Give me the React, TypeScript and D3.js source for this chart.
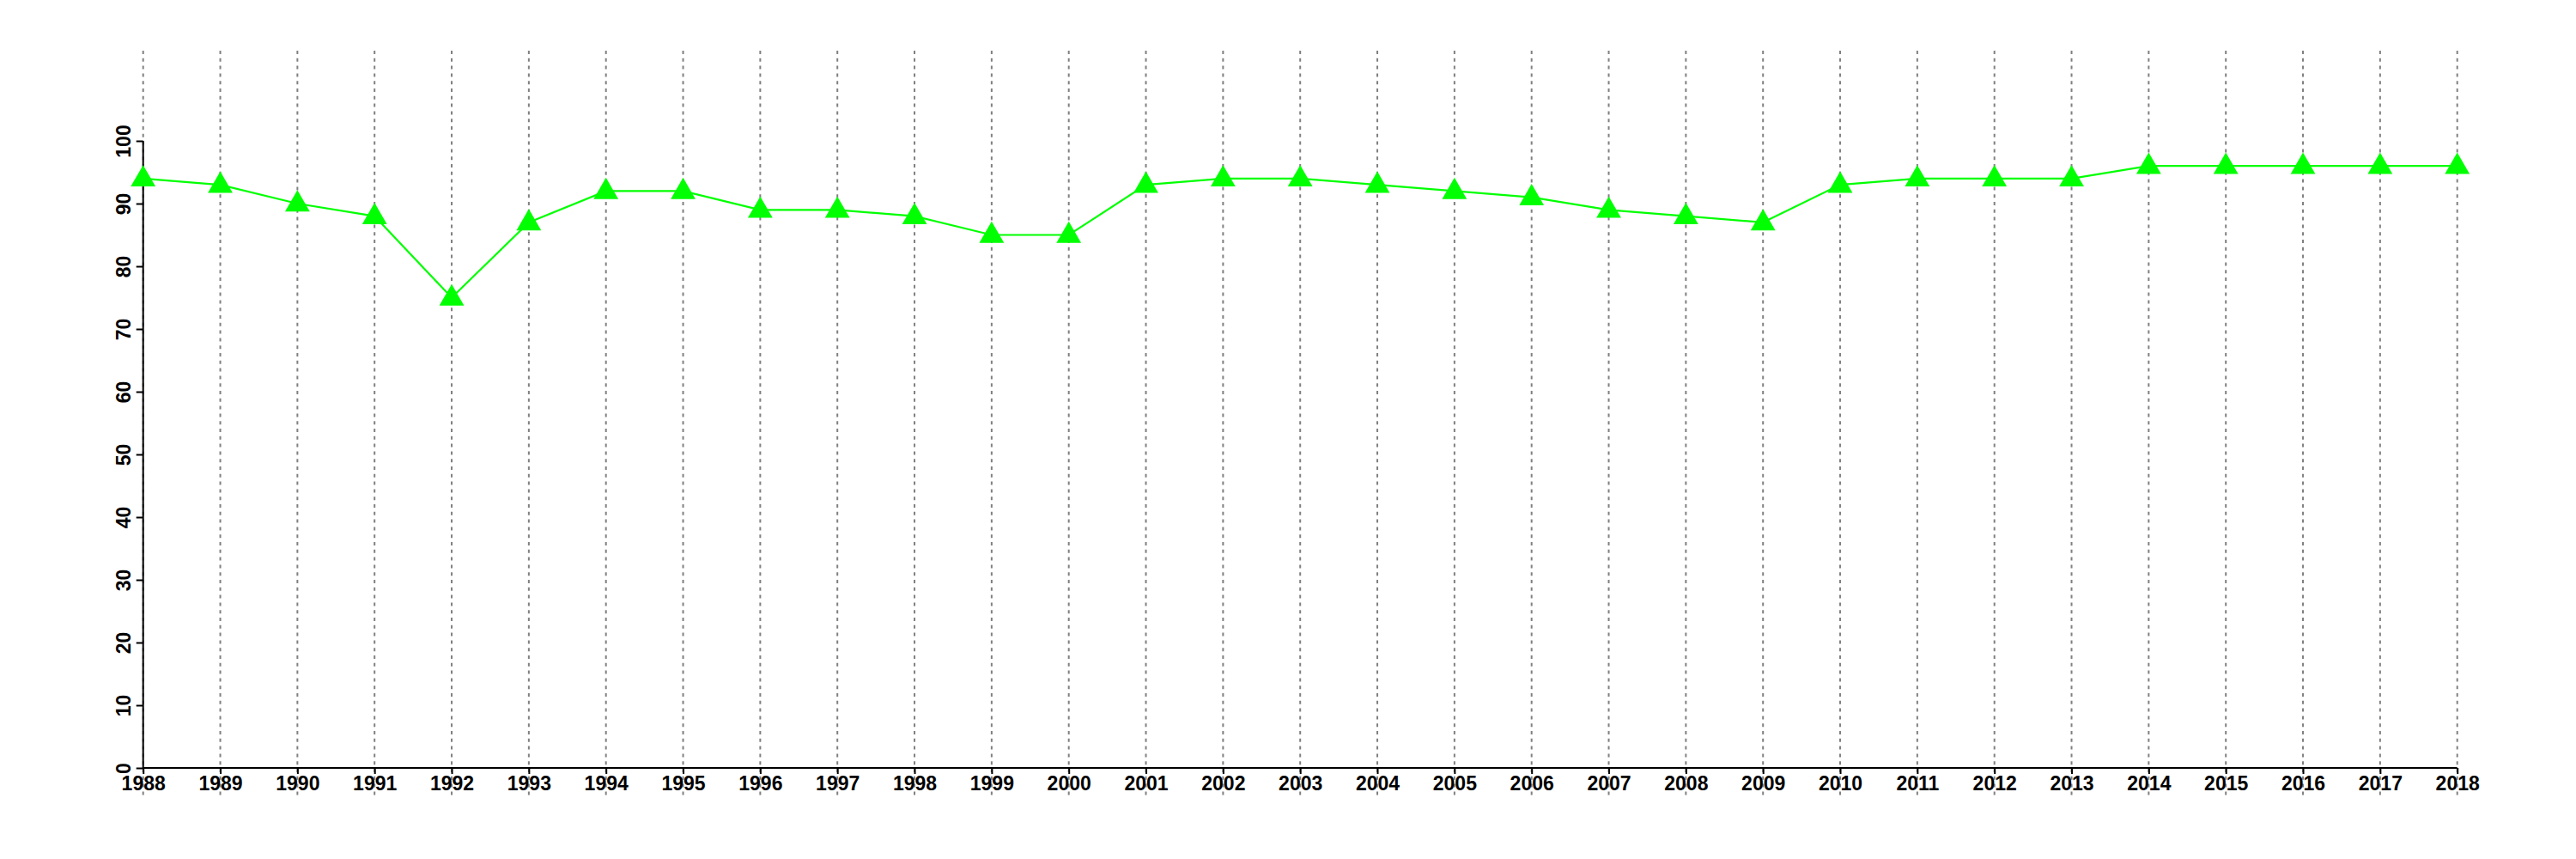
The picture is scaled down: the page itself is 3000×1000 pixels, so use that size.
import { useEffect, useRef } from "react";
import * as d3 from "d3";

const years = [
  1988, 1989, 1990, 1991, 1992, 1993, 1994, 1995, 1996, 1997, 1998, 1999, 2000,
  2001, 2002, 2003, 2004, 2005, 2006, 2007, 2008, 2009, 2010, 2011, 2012, 2013,
  2014, 2015, 2016, 2017, 2018
];
const values = [
  94, 93, 90, 88, 75, 87, 92, 92, 89, 89, 88, 85, 85,
  93, 94, 94, 93, 92, 91, 89, 88, 87, 93, 94, 94, 94,
  96, 96, 96, 96, 96
];
const yTicks = [0, 10, 20, 30, 40, 50, 60, 70, 80, 90, 100];

const W = 3000, H = 1000;
const m = { l: 166.7, r: 138.3, t: 164, b: 106 };
const FONT = "'Liberation Sans', Arial, Helvetica, sans-serif";

export default function App() {
  const ref = useRef<SVGSVGElement | null>(null);

  useEffect(() => {
    const svg = d3.select(ref.current);
    svg.selectAll("*").remove();

    const x = d3.scaleLinear()
      .domain([years[0], years[years.length - 1]])
      .range([m.l, W - m.r]);
    const y = d3.scaleLinear()
      .domain([0, 100])
      .range([H - m.b, m.t]);

    svg.append("rect").attr("width", W).attr("height", H).attr("fill", "white");

    // dotted vertical grid, one per year
    svg.append("g")
      .selectAll("line")
      .data(years)
      .enter()
      .append("line")
      .attr("x1", d => x(d)).attr("x2", d => x(d))
      .attr("y1", 59).attr("y2", 927)
      .attr("stroke", "#808080")
      .attr("stroke-width", 2)
      .attr("stroke-dasharray", "4 4.8");

    // x axis
    const ax = d3.axisBottom(x)
      .tickValues(years)
      .tickSize(7)
      .tickPadding(2)
      .tickFormat(d => String(d));
    svg.append("g")
      .attr("transform", `translate(0,${y(0)})`)
      .call(ax as any)
      .call((g: any) => g.select(".domain").attr("stroke", "black").attr("stroke-width", 2)
        .attr("d", `M${m.l},0H${W - m.r}`))
      .call((g: any) => g.selectAll("line").attr("stroke", "black").attr("stroke-width", 2))
      .call((g: any) => g.selectAll("text")
        .attr("fill", "black")
        .attr("font-family", FONT)
        .attr("font-weight", "bold")
        .attr("font-size", 23)
        .attr("dy", "0.75em"));

    // y axis, labels rotated
    const ay = d3.axisLeft(y)
      .tickValues(yTicks)
      .tickSize(8)
      .tickFormat(d => String(d));
    svg.append("g")
      .attr("transform", `translate(${m.l},0)`)
      .call(ay as any)
      .call((g: any) => g.select(".domain").attr("stroke", "black").attr("stroke-width", 2)
        .attr("d", `M0,${y(100)}V${y(0)}`))
      .call((g: any) => g.selectAll("line").attr("stroke", "black").attr("stroke-width", 2))
      .call((g: any) => g.selectAll("text")
        .attr("fill", "black")
        .attr("font-family", FONT)
        .attr("font-weight", "bold")
        .attr("font-size", 23)
        .attr("x", 0).attr("dy", 0)
        .attr("text-anchor", "middle")
        .attr("transform", "translate(-15,0) rotate(-90)"));

    const pts = years.map((yr, i) => [x(yr), y(values[i])] as [number, number]);

    svg.append("path")
      .datum(pts)
      .attr("d", d3.line())
      .attr("fill", "none")
      .attr("stroke", "#00ff00")
      .attr("stroke-width", 2.2);

    const tri = d3.symbol().type(d3.symbolTriangle).size(360);
    svg.append("g")
      .selectAll("path")
      .data(pts)
      .enter()
      .append("path")
      .attr("transform", d => `translate(${d[0]},${d[1] + 1})`)
      .attr("d", tri)
      .attr("fill", "#00ff00");
  }, []);

  return (
    <svg
      ref={ref}
      width={W}
      height={H}
      style={{ position: "absolute", left: 0, top: 0, display: "block" }}
    />
  );
}
